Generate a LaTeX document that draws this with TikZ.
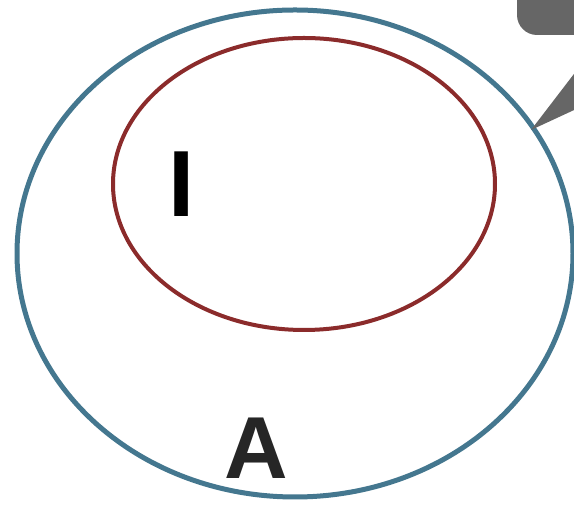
\documentclass[tikz,border=0pt]{standalone}
\usepackage{fontspec}
\setmainfont{Liberation Sans}
\usetikzlibrary{shapes.geometric}
\definecolor{setblue}{HTML}{44778F}
\definecolor{setred}{HTML}{8B2B2B}
\definecolor{calloutgray}{HTML}{666666}
\definecolor{lettergray}{HTML}{262626}
\tikzset{
    setring/.style={ellipse,draw,inner sep=0pt},
    letter/.style={font=\bfseries\fontsize{94}{94}\selectfont,inner sep=0pt}
}

\begin{document}
\begin{tikzpicture}[x=1pt,y=1pt]
    \useasboundingbox (0,0) rectangle (574,505);

    % sets
    \node[setring,draw=setblue,line width=5pt,minimum width=556pt,minimum height=487pt] (all) at (295,251.5) {};
    \node[setring,draw=setred,line width=4pt,minimum width=382pt,minimum height=292pt] (sub) at (304,321) {};

    % labels
    \node[letter] (lblI) at (181.5,321) {I};
    \node[letter,text=lettergray,font=\bfseries\fontsize{88}{88}\selectfont] (lblA) at (256.5,57) {A};

    % callout
    \coordinate (tip) at (531,375);
    \fill[calloutgray,rounded corners=20pt] (517,470) rectangle (620,540);
    \fill[calloutgray] (tip) -- (600,465) -- (600,407) -- cycle;
\end{tikzpicture}
\end{document}
